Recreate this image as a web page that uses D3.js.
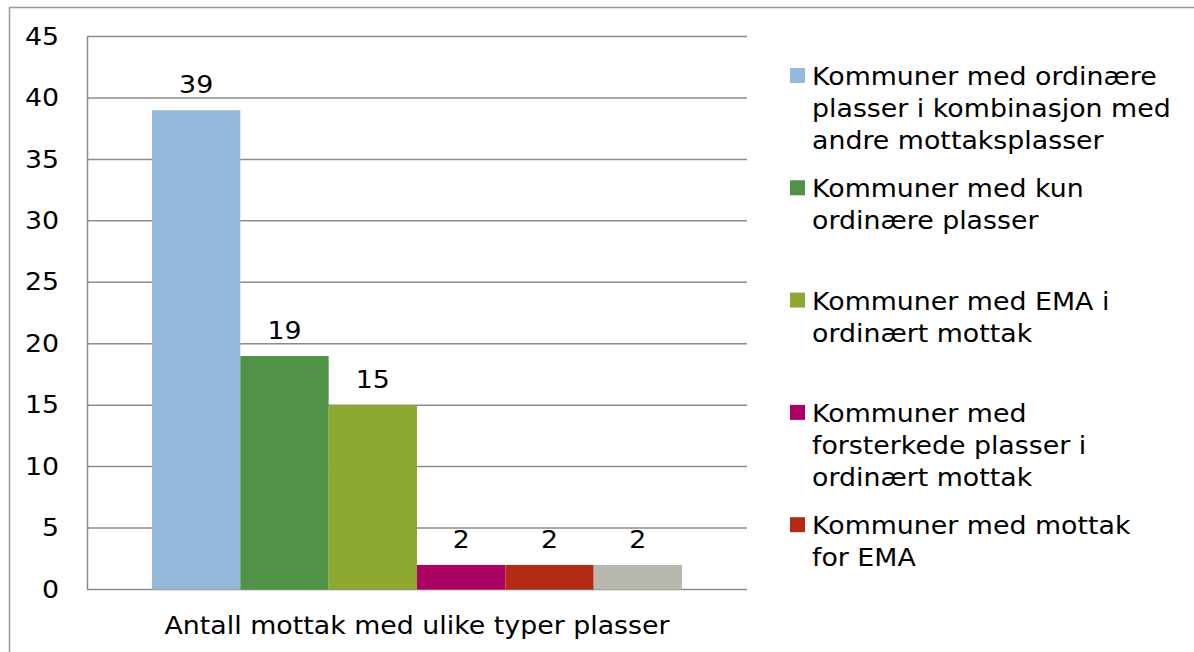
<!DOCTYPE html>
<html>
<head>
<meta charset="utf-8">
<script src="https://cdn.jsdelivr.net/npm/d3@7"></script>
<style>
  html, body { margin: 0; padding: 0; background: #fff; }
  svg { display: block; font-family: "DejaVu Sans", Verdana, sans-serif; }
</style>
</head>
<body>
<svg id="chart" width="1194" height="652"></svg>
<script>
// chart data
const category = "Antall mottak med ulike typer plasser";
const seriesNames = [
  "Kommuner med ordinære plasser i kombinasjon med andre mottaksplasser",
  "Kommuner med kun ordinære plasser",
  "Kommuner med EMA i ordinært mottak",
  "Kommuner med forsterkede plasser i ordinært mottak",
  "Kommuner med mottak for EMA",
  ""
];
const seriesValues = [39, 19, 15, 2, 2, 2];
const seriesColors = ["#94b9da", "#509347", "#8ea932", "#ab0064", "#b32b17", "#b8b8ae"];
const yTicks = [0, 5, 10, 15, 20, 25, 30, 35, 40, 45];
// legend lines as wrapped in the original
const legendLines = [
  ["Kommuner med ordinære", "plasser i kombinasjon med", "andre mottaksplasser"],
  ["Kommuner med kun", "ordinære plasser"],
  ["Kommuner med EMA i", "ordinært mottak"],
  ["Kommuner med", "forsterkede plasser i", "ordinært mottak"],
  ["Kommuner med mottak", "for EMA"]
];

const svg = d3.select("#chart");
const plot = { left: 87, right: 747, top: 36.5, bottom: 589.5 };
const fontSize = "24px";
const sx = 1.117; // Verdana is wider than DejaVu Sans

// outer frame (right and bottom edges run off the canvas)
svg.append("rect")
  .attr("x", 9.5).attr("y", 7.5)
  .attr("width", 1200).attr("height", 700)
  .attr("fill", "none")
  .attr("stroke", "#999")
  .attr("stroke-width", 1.5);

const y = d3.scaleLinear().domain([0, 45]).range([plot.bottom, plot.top]);

const x0 = d3.scaleBand().domain([category])
  .range([plot.left, plot.right]).paddingInner(0).paddingOuter(0.1226);
const x1 = d3.scaleBand().domain(d3.range(seriesValues.length))
  .range([0, x0.bandwidth()]);

// gridlines
svg.append("g")
  .selectAll("line")
  .data(yTicks)
  .enter().append("line")
  .attr("x1", plot.left).attr("x2", plot.right)
  .attr("y1", d => y(d)).attr("y2", d => y(d))
  .attr("stroke", "#8c8c8c")
  .attr("stroke-width", 1.5);

// y axis
const yAxis = svg.append("g")
  .attr("transform", `translate(${plot.left},0)`)
  .call(d3.axisLeft(y).tickValues(yTicks).tickSize(0));
yAxis.select(".domain").attr("stroke", "#8c8c8c").attr("stroke-width", 1.5);
yAxis.selectAll("text")
  .attr("x", 0)
  .attr("transform", `translate(-28,0) scale(${sx},1)`)
  .attr("font-size", fontSize)
  .attr("font-family", "DejaVu Sans, Verdana, sans-serif")
  .attr("fill", "#000");

// bars
const group = svg.append("g")
  .attr("transform", `translate(${x0(category)},0)`);

group.selectAll("rect")
  .data(seriesValues)
  .enter().append("rect")
  .attr("x", (d, i) => x1(i))
  .attr("y", d => y(d))
  .attr("width", x1.bandwidth())
  .attr("height", d => y(0) - y(d))
  .attr("fill", (d, i) => seriesColors[i]);

// value labels
group.selectAll("text")
  .data(seriesValues)
  .enter().append("text")
  .attr("transform", (d, i) =>
    `translate(${x1(i) + x1.bandwidth() / 2},${y(d) - 17}) scale(${sx},1)`)
  .attr("text-anchor", "middle")
  .attr("font-size", fontSize)
  .attr("fill", "#000")
  .text(d => d);

// category label
svg.append("text")
  .attr("transform", `translate(${x0(category) + x0.bandwidth() / 2},634) scale(${sx},1)`)
  .attr("text-anchor", "middle")
  .attr("font-size", fontSize)
  .attr("fill", "#000")
  .text(category);

// legend
const legend = svg.selectAll(".legend-item")
  .data(legendLines)
  .enter().append("g")
  .attr("class", "legend-item")
  .attr("transform", (d, i) => `translate(790,${68 + i * 112.3})`);

legend.append("rect")
  .attr("width", 15).attr("height", 15)
  .attr("fill", (d, i) => seriesColors[i]);

legend.append("text")
  .attr("transform", `translate(22,0) scale(${sx},1)`)
  .attr("font-size", fontSize)
  .attr("fill", "#000")
  .selectAll("tspan")
  .data(d => d)
  .enter().append("tspan")
  .attr("x", 0)
  .attr("y", (d, i) => 17 + i * 32)
  .text(d => d);
</script>
</body>
</html>
